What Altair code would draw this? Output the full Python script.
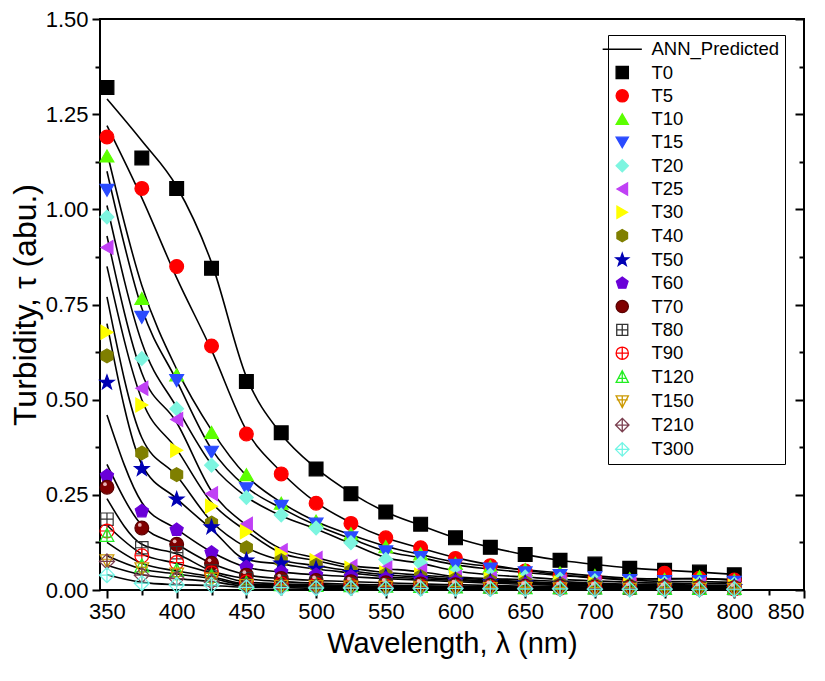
import altair as alt
import pandas as pd

FONT = "Liberation Sans"

wavelengths = [350, 375, 400, 425, 450, 475, 500, 525, 550, 575, 600, 625, 650, 675, 700, 725, 750, 775, 800]
series = ["T0", "T5", "T10", "T15", "T20", "T25", "T30", "T40", "T50", "T60",
          "T70", "T80", "T90", "T120", "T150", "T210", "T300"]

# measured turbidity (markers)
m_T0 = [1.32, 1.135, 1.055, 0.845, 0.548, 0.413, 0.318, 0.253, 0.205, 0.173, 0.137, 0.112, 0.093, 0.078, 0.068, 0.057, 0.052, 0.047, 0.040]
m_T5 = [1.19, 1.055, 0.85, 0.641, 0.41, 0.305, 0.228, 0.175, 0.137, 0.111, 0.083, 0.064, 0.050, 0.037, 0.030, 0.022, 0.044, 0.031, 0.026]
m_T10 = [1.14, 0.766, 0.565, 0.414, 0.303, 0.228, 0.181, 0.148, 0.114, 0.095, 0.070, 0.062, 0.054, 0.045, 0.038, 0.030, 0.028, 0.035, 0.026]
m_T15 = [1.05, 0.716, 0.55, 0.362, 0.266, 0.22, 0.173, 0.137, 0.100, 0.085, 0.065, 0.055, 0.045, 0.038, 0.032, 0.025, 0.022, 0.022, 0.020]
m_T20 = [0.98, 0.608, 0.476, 0.328, 0.243, 0.197, 0.163, 0.124, 0.080, 0.070, 0.047, 0.039, 0.034, 0.028, 0.024, 0.020, 0.018, 0.018, 0.016]
m_T25 = [0.90, 0.53, 0.448, 0.253, 0.173, 0.103, 0.083, 0.062, 0.057, 0.050, 0.034, 0.030, 0.028, 0.022, 0.018, 0.015, 0.014, 0.014, 0.012]
m_T30 = [0.677, 0.486, 0.367, 0.22, 0.153, 0.095, 0.077, 0.057, 0.045, 0.039, 0.033, 0.028, 0.022, 0.018, 0.016, 0.013, 0.012, 0.012, 0.010]
m_T40 = [0.615, 0.36, 0.303, 0.176, 0.111, 0.077, 0.065, 0.050, 0.040, 0.035, 0.028, 0.024, 0.020, 0.016, 0.014, 0.012, 0.011, 0.010, 0.009]
m_T50 = [0.545, 0.318, 0.238, 0.165, 0.078, 0.070, 0.056, 0.045, 0.035, 0.030, 0.025, 0.021, 0.018, 0.014, 0.012, 0.010, 0.009, 0.009, 0.008]
m_T60 = [0.30, 0.207, 0.158, 0.098, 0.06, 0.047, 0.040, 0.035, 0.030, 0.026, 0.022, 0.018, 0.015, 0.012, 0.010, 0.009, 0.008, 0.008, 0.007]
m_T70 = [0.27, 0.163, 0.12, 0.07, 0.039, 0.030, 0.025, 0.022, 0.019, 0.016, 0.014, 0.012, 0.010, 0.009, 0.008, 0.007, 0.006, 0.006, 0.005]
m_T80 = [0.186, 0.111, 0.098, 0.05, 0.03, 0.022, 0.018, 0.015, 0.013, 0.011, 0.010, 0.009, 0.008, 0.007, 0.006, 0.005, 0.005, 0.005, 0.004]
m_T90 = [0.155, 0.09, 0.072, 0.045, 0.021, 0.016, 0.014, 0.012, 0.010, 0.009, 0.008, 0.007, 0.006, 0.005, 0.005, 0.004, 0.004, 0.004, 0.003]
m_T120 = [0.142, 0.062, 0.05, 0.035, 0.016, 0.013, 0.011, 0.010, 0.009, 0.008, 0.007, 0.006, 0.005, 0.005, 0.004, 0.004, 0.003, 0.003, 0.003]
m_T150 = [0.078, 0.057, 0.043, 0.03, 0.013, 0.011, 0.010, 0.009, 0.008, 0.007, 0.006, 0.005, 0.005, 0.004, 0.004, 0.003, 0.003, 0.003, 0.002]
m_T210 = [0.075, 0.039, 0.03, 0.022, 0.010, 0.009, 0.008, 0.007, 0.006, 0.006, 0.005, 0.004, 0.004, 0.004, 0.003, 0.003, 0.003, 0.002, 0.002]
m_T300 = [0.039, 0.018, 0.013, 0.013, 0.007, 0.006, 0.005, 0.005, 0.004, 0.004, 0.004, 0.003, 0.003, 0.003, 0.002, 0.002, 0.002, 0.002, 0.002]

# ANN predicted turbidity (lines)
p_T0 = [1.29, 1.18, 1.06, 0.86, 0.56, 0.41, 0.32, 0.255, 0.205, 0.17, 0.137, 0.112, 0.093, 0.078, 0.067, 0.058, 0.052, 0.047, 0.041]
p_T5 = [1.22, 1.03, 0.82, 0.63, 0.42, 0.31, 0.23, 0.177, 0.137, 0.11, 0.085, 0.066, 0.052, 0.040, 0.033, 0.028, 0.030, 0.030, 0.027]
p_T10 = [1.15, 0.80, 0.58, 0.42, 0.30, 0.23, 0.18, 0.145, 0.115, 0.093, 0.073, 0.062, 0.053, 0.045, 0.037, 0.031, 0.029, 0.030, 0.026]
p_T15 = [1.10, 0.74, 0.55, 0.37, 0.27, 0.215, 0.17, 0.135, 0.102, 0.085, 0.066, 0.055, 0.046, 0.038, 0.032, 0.026, 0.023, 0.022, 0.020]
p_T20 = [1.01, 0.65, 0.48, 0.33, 0.245, 0.195, 0.16, 0.122, 0.085, 0.070, 0.050, 0.040, 0.034, 0.028, 0.024, 0.020, 0.018, 0.017, 0.016]
p_T25 = [0.93, 0.57, 0.44, 0.26, 0.17, 0.108, 0.085, 0.064, 0.056, 0.048, 0.035, 0.030, 0.027, 0.022, 0.018, 0.015, 0.014, 0.013, 0.012]
p_T30 = [0.85, 0.50, 0.37, 0.23, 0.155, 0.097, 0.077, 0.058, 0.046, 0.039, 0.032, 0.027, 0.022, 0.018, 0.016, 0.013, 0.012, 0.011, 0.010]
p_T40 = [0.77, 0.40, 0.30, 0.18, 0.112, 0.078, 0.064, 0.050, 0.040, 0.034, 0.028, 0.024, 0.020, 0.016, 0.014, 0.012, 0.011, 0.010, 0.009]
p_T50 = [0.70, 0.33, 0.24, 0.16, 0.080, 0.068, 0.055, 0.045, 0.035, 0.030, 0.025, 0.021, 0.018, 0.014, 0.012, 0.010, 0.009, 0.009, 0.008]
p_T60 = [0.46, 0.23, 0.16, 0.10, 0.060, 0.047, 0.040, 0.035, 0.030, 0.026, 0.022, 0.018, 0.015, 0.012, 0.010, 0.009, 0.008, 0.008, 0.007]
p_T70 = [0.33, 0.17, 0.12, 0.07, 0.040, 0.030, 0.025, 0.022, 0.019, 0.016, 0.014, 0.012, 0.010, 0.009, 0.008, 0.007, 0.006, 0.006, 0.005]
p_T80 = [0.24, 0.12, 0.095, 0.05, 0.030, 0.022, 0.018, 0.015, 0.013, 0.011, 0.010, 0.009, 0.008, 0.007, 0.006, 0.005, 0.005, 0.005, 0.004]
p_T90 = [0.17, 0.095, 0.07, 0.045, 0.021, 0.016, 0.014, 0.012, 0.010, 0.009, 0.008, 0.007, 0.006, 0.005, 0.005, 0.004, 0.004, 0.004, 0.003]
p_T120 = [0.125, 0.07, 0.05, 0.035, 0.016, 0.013, 0.011, 0.010, 0.009, 0.008, 0.007, 0.006, 0.005, 0.005, 0.004, 0.004, 0.003, 0.003, 0.003]
p_T150 = [0.09, 0.055, 0.042, 0.03, 0.013, 0.011, 0.010, 0.009, 0.008, 0.007, 0.006, 0.005, 0.005, 0.004, 0.004, 0.003, 0.003, 0.003, 0.002]
p_T210 = [0.065, 0.04, 0.03, 0.022, 0.010, 0.009, 0.008, 0.007, 0.006, 0.006, 0.005, 0.004, 0.004, 0.004, 0.003, 0.003, 0.003, 0.002, 0.002]
p_T300 = [0.04, 0.02, 0.014, 0.012, 0.007, 0.006, 0.005, 0.005, 0.004, 0.004, 0.004, 0.003, 0.003, 0.003, 0.002, 0.002, 0.002, 0.002, 0.002]

measured = [m_T0, m_T5, m_T10, m_T15, m_T20, m_T25, m_T30, m_T40, m_T50, m_T60,
            m_T70, m_T80, m_T90, m_T120, m_T150, m_T210, m_T300]
predicted = [p_T0, p_T5, p_T10, p_T15, p_T20, p_T25, p_T30, p_T40, p_T50, p_T60,
             p_T70, p_T80, p_T90, p_T120, p_T150, p_T210, p_T300]

x_major = [350, 400, 450, 500, 550, 600, 650, 700, 750, 800, 850]
x_minor = [375, 425, 475, 525, 575, 625, 675, 725, 775, 825]
y_major = [0.0, 0.25, 0.5, 0.75, 1.0, 1.25, 1.5]
y_minor = [0.125, 0.375, 0.625, 0.875, 1.125, 1.375]

# marker styles
LINE = "M-3.2,0L3.2,0"
HEX = "M0,-1L0.866,-0.5L0.866,0.5L0,1L-0.866,0.5L-0.866,-0.5Z"
STAR = "M0,-1.1L0.26,-0.36L1.05,-0.34L0.42,0.14L0.65,0.9L0,0.44L-0.65,0.9L-0.42,0.14L-1.05,-0.34L-0.26,-0.36Z"
PENT = "M0,-1L0.951,-0.309L0.588,0.809L-0.588,0.809L-0.951,-0.309Z"
SQ_X = "M-0.9,-0.9L0.9,-0.9L0.9,0.9L-0.9,0.9Z M0,-0.9L0,0.9 M-0.9,0L0.9,0"
CI_X = "M-1,0A1,1,0,1,1,1,0A1,1,0,1,1,-1,0Z M0,-1L0,1 M-1,0L1,0"
TU_X = "M0,-1.1L1,0.8L-1,0.8Z M0,-1.1L0,0.8 M-0.65,0.15L0.65,0.15"
TD_X = "M-1,-0.8L1,-0.8L0,1.1Z M0,-0.8L0,1.1 M-0.9,-0.15L0.9,-0.15"
DI_X = "M0,-1.1L1.1,0L0,1.1L-1.1,0Z M0,-1.1L0,1.1 M-1.1,0L1.1,0"

legend_domain = ["ANN_Predicted"] + series
shape_range = [LINE, "square", "circle", "triangle-up", "triangle-down", "diamond",
               "triangle-left", "triangle-right", HEX, STAR, PENT, "circle",
               SQ_X, CI_X, TU_X, TD_X, DI_X, DI_X]
fill_range = ["transparent", "#000000", "#FF0000", "#5CFF00", "#2A4BFF", "#7DF5E0",
              "#C040F5", "#FFFF00", "#7F7F00", "#0000B4", "#6A00D8", "#800000",
              "transparent", "transparent", "transparent", "transparent", "transparent", "transparent"]
stroke_range = ["#000000", "#000000", "#FF0000", "#5CFF00", "#2A4BFF", "#7DF5E0",
                "#C040F5", "#FFFF00", "#7F7F00", "#0000B4", "#6A00D8", "#5A0000",
                "#333333", "#FF0000", "#22EE22", "#CC9900", "#7B4050", "#70F5E5"]

rows_m = []
rows_p = []
for s, mv, pv in zip(series, measured, predicted):
    for w, a, b in zip(wavelengths, mv, pv):
        rows_m.append({"series": s, "wl": w, "tau": a})
        rows_p.append({"series": s, "wl": w, "tau": b})
df_m = pd.DataFrame(rows_m)
df_p = pd.DataFrame(rows_p)
df_axis = pd.DataFrame({"wl": [350, 800], "tau": [0.0, 1.5]})

xs = alt.Scale(domain=[345, 850], nice=False, zero=False)
ys = alt.Scale(domain=[0, 1.5], nice=False, zero=False)

x_main = alt.Axis(values=x_major, orient="bottom", title="Wavelength, λ (nm)",
                  tickSize=8, labelPadding=3, titlePadding=7, format="d", titleFontSize=29)
y_main = alt.Axis(values=y_major, orient="left", title="Turbidity, τ (abu.)",
                  tickSize=8, labelPadding=4, titlePadding=3, format=".2f", titleFontSize=32)

lines = alt.Chart(df_p).mark_line(color="black", strokeWidth=1.6, interpolate="monotone").encode(
    x=alt.X("wl:Q", scale=xs, axis=x_main),
    y=alt.Y("tau:Q", scale=ys, axis=y_main),
    detail="series:N",
)

leg = alt.Legend(title=None, orient="none", legendX=508, legendY=16,
                 strokeColor="black", fillColor="white", padding=5,
                 labelFontSize=18.5, labelFont=FONT, labelColor="black",
                 symbolSize=150, symbolStrokeWidth=1.3, rowPadding=4.3,
                 labelOffset=20, labelLimit=0)

points = alt.Chart(df_m).mark_point(size=190, strokeWidth=1.2, opacity=1).encode(
    x=alt.X("wl:Q", scale=xs, axis=None),
    y=alt.Y("tau:Q", scale=ys, axis=None),
    shape=alt.Shape("series:N", scale=alt.Scale(domain=legend_domain, range=shape_range), legend=leg),
    fill=alt.Fill("series:N", scale=alt.Scale(domain=legend_domain, range=fill_range), legend=leg),
    stroke=alt.Stroke("series:N", scale=alt.Scale(domain=legend_domain, range=stroke_range), legend=leg),
    order=alt.Order("idx:Q"),
).transform_calculate(idx="indexof(%s, datum.series)" % str(series).replace("'", '"'))

# specular highlight on the T70 spheres
shine = alt.Chart(df_m).transform_filter(alt.datum.series == "T70").mark_point(
    filled=True, size=14, color="#F2C8C8", opacity=0.9, xOffset=-2, yOffset=-3
).encode(
    x=alt.X("wl:Q", scale=xs, axis=None),
    y=alt.Y("tau:Q", scale=ys, axis=None),
)


def axis_layer(xaxis, yaxis):
    return alt.Chart(df_axis).mark_point(opacity=0).encode(
        x=alt.X("wl:Q", scale=xs, axis=xaxis),
        y=alt.Y("tau:Q", scale=ys, axis=yaxis),
    )


x_minor_ax = axis_layer(alt.Axis(values=x_minor, orient="bottom", tickSize=5, labels=False, title=None), None)
y_minor_ax = axis_layer(None, alt.Axis(values=y_minor, orient="left", tickSize=5, labels=False, title=None))
r_major_ax = axis_layer(None, alt.Axis(values=y_major, orient="right", tickSize=9, offset=-9, labels=False, title=None))
r_minor_ax = axis_layer(None, alt.Axis(values=y_minor, orient="right", tickSize=5, offset=-5, labels=False, title=None))

chart = alt.layer(lines, points, shine, x_minor_ax, y_minor_ax, r_major_ax, r_minor_ax).resolve_axis(
    x="independent", y="independent"
).properties(
    width=704, height=571, padding={"left": 1, "top": 0, "right": 5, "bottom": 5}
).configure_view(
    stroke="black", strokeWidth=2
).configure_axis(
    labelFont=FONT, titleFont=FONT, labelFontSize=22,
    labelColor="black", titleColor="black", tickColor="black", tickWidth=2,
    grid=False, domain=False, titleFontWeight="normal"
)

chart.save("out.html", embed_options={"renderer": "svg", "actions": False})
